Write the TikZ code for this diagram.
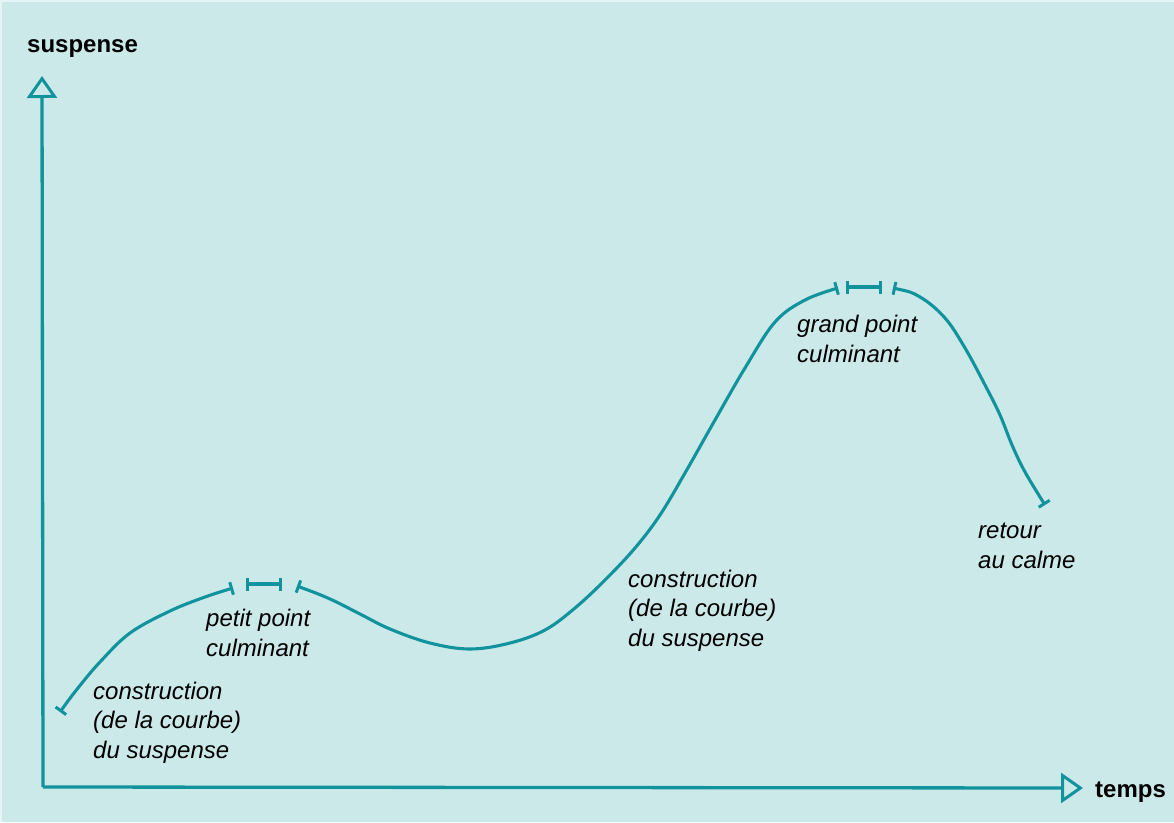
\documentclass[tikz,border=0pt]{standalone}
\usepackage{fontspec}
\setmainfont{Liberation Sans}
\usetikzlibrary{arrows.meta}
\definecolor{bgc}{HTML}{CCE9EA}
\definecolor{teal}{HTML}{10939C}
\tikzset{
  curve/.style={draw=teal, line width=3.1pt, line cap=round, line join=round},
  axis/.style={draw=teal, line width=3.3pt, line join=round,
     -{Triangle[open, length=22pt, width=30pt, line width=3pt]}},
  barends/.style={{Bar[width=13pt,line width=3pt]}-{Bar[width=13pt,line width=3pt]}},
  lbl/.style={inner sep=0pt, anchor=base west, align=left,
     font=\fontsize{24}{29.5}\selectfont\itshape},
  axlbl/.style={inner sep=0pt, anchor=base west,
     font=\fontsize{24}{29.5}\selectfont\bfseries}
}
\begin{document}
\begin{tikzpicture}[x=1pt,y=-1pt]
\useasboundingbox (0,0) rectangle (1174,822);
\fill[white!50!bgc] (0,0) rectangle (1174,822);
\fill[bgc] (2,2) rectangle (1174,822);

\coordinate (O) at (43,787);
\coordinate (ytop) at (42,76);
\coordinate (xend) at (1083,788);
\draw[axis] (O) -- (ytop);
\draw[axis] (O) -- (xend);

\node[axlbl] (ylab) at (27,52) {suspense};
\node[axlbl] (xlab) at (1095,797) {temps};

% first rise
\draw[curve, barends] plot[smooth, tension=0.6] coordinates {
 (60,712) (78,688) (100,662) (130,633) (170,611) (205,597) (233,588)};
\draw[curve, barends] (246,584) -- (282,584);
% dip and big rise
\draw[curve, barends] plot[smooth, tension=0.6] coordinates {
 (297,586) (330,599) (360,614) (390,629) (430,643) (470,649) (510,643)
 (545,630) (575,608) (605,580) (635,548) (660,515) (685,473) (715,420)
 (745,368) (775,322) (805,300) (838,288)};
\draw[curve, barends] (846,287) -- (882,287);
% fall
\draw[curve, barends] plot[smooth, tension=0.6] coordinates {
 (893,288) (920,297) (945,318) (965,348) (985,385) (1000,415) (1012,445)
 (1025,472) (1045,505)};

\node[lbl] (c1) at (93,758) {construction\\(de la courbe)\\du suspense};
\node[lbl] (p1) at (206,656) {petit point\\culminant};
\node[lbl] (c2) at (628,646) {construction\\(de la courbe)\\du suspense};
\node[lbl] (g1) at (797,362) {grand point\\culminant};
\node[lbl] (r1) at (978,568) {retour\\au calme};
\end{tikzpicture}
\end{document}
